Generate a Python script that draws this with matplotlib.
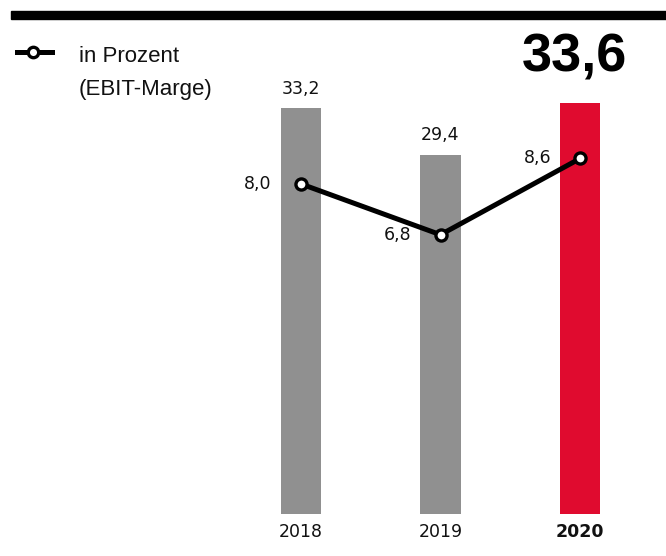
import matplotlib
matplotlib.use("Agg")
import matplotlib.pyplot as plt
from matplotlib.patches import Rectangle
from matplotlib.lines import Line2D

years = ["2018", "2019", "2020"]
umsatz = [33.2, 29.4, 33.6]
marge = [8.0, 6.8, 8.6]
umsatz_labels = ["33,2", "29,4", ""]
marge_labels = ["8,0", "6,8", "8,6"]
headline = "33,6"
legend_lines = ["in Prozent", "(EBIT-Marge)"]

GRAY = "#909090"
RED = "#E00B2F"

W, H = 666, 556
fig = plt.figure(figsize=(W / 100, H / 100), dpi=100)

def fx(px):
    return px / W

def fy(py):
    return 1 - py / H

# axes in pixel coordinates
L, R, T, B = 240, 640, 30, 514
ax = fig.add_axes([fx(L), fy(B), fx(R) - fx(L), fy(T) - fy(B)])
ax.set_xlim((L - 300.75) / 139.75, (R - 300.75) / 139.75)
ax.set_ylim(0, (B - T) / 12.225)

x = list(range(len(years)))
colors = [GRAY, GRAY, RED]
bars = ax.bar(x, umsatz, width=0.287, color=colors, zorder=1)
for xi, v, lab in zip(x, umsatz, umsatz_labels):
    if lab:
        ax.annotate(lab, (xi, v), xytext=(0, 7.5), textcoords="offset points",
                    ha="center", va="bottom", fontsize=12.5, family="DejaVu Sans",
                    color="#111111")

ax.set_xticks(x)
ax.set_xticklabels(years, fontsize=12.5, family="DejaVu Sans", color="#111111")
ax.get_xticklabels()[-1].set_fontweight("bold")
ax.tick_params(axis="x", length=0, pad=6.5)
ax.set_yticks([])
for s in ax.spines.values():
    s.set_visible(False)

ax2 = ax.twinx()
ax2.set_ylim(0.2135, 11.6286)
ax2.plot(x, marge, color="black", lw=3.6, marker="o", markersize=8,
         markerfacecolor="white", markeredgecolor="black", markeredgewidth=2.4,
         zorder=3, solid_capstyle="round")
for xi, v, lab in zip(x, marge, marge_labels):
    ax2.annotate(lab, (xi, v), xytext=(-21, 0), textcoords="offset points",
                 ha="right", va="center", fontsize=12.5, family="DejaVu Sans",
                 color="#111111")
ax2.set_yticks([])
for s in ax2.spines.values():
    s.set_visible(False)

# top black rule
fig.patches.append(Rectangle((fx(11), fy(19)), 1 - fx(11), fy(11) - fy(19),
                             transform=fig.transFigure, color="black", zorder=5))

# legend
fig.add_artist(Line2D([fx(17), fx(52)], [fy(52), fy(52)], transform=fig.transFigure,
                      color="black", lw=3.6))
fig.add_artist(Line2D([fx(33)], [fy(52)], transform=fig.transFigure, marker="o",
                      markersize=7.5, markerfacecolor="white", markeredgecolor="black",
                      markeredgewidth=2.4, lw=0))
fig.text(fx(79), fy(62), legend_lines[0], fontsize=16, family="Liberation Sans",
         ha="left", va="baseline", color="#111111")
fig.text(fx(79), fy(95), legend_lines[1], fontsize=16, family="Liberation Sans",
         ha="left", va="baseline", color="#111111")

# headline value
fig.text(fx(627), fy(72), headline, fontsize=39, family="Liberation Sans",
         fontweight="bold", ha="right", va="baseline", color="black")

fig.savefig("out.png", dpi=100)
